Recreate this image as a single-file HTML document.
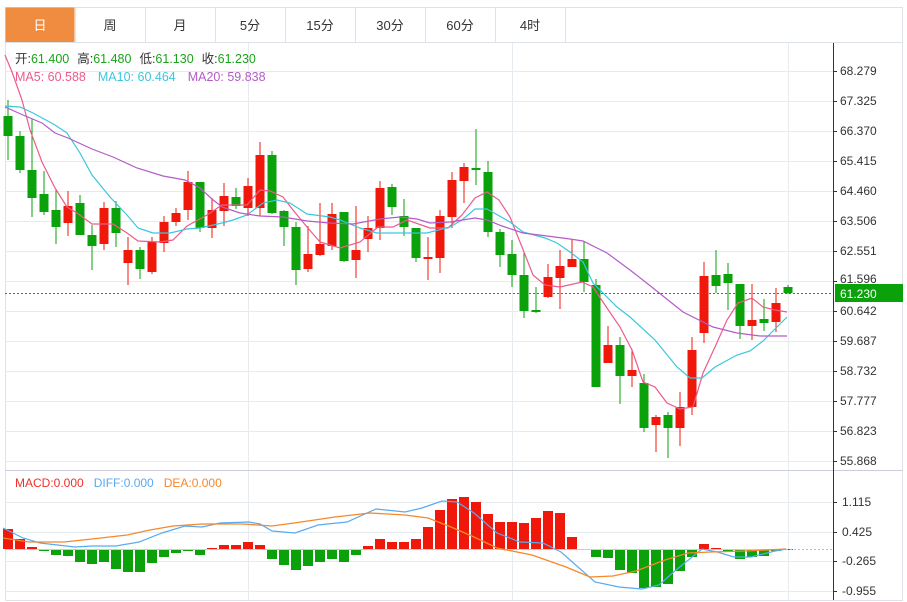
<!DOCTYPE html>
<html><head><meta charset="utf-8"><style>
html,body{margin:0;padding:0;background:#fff;width:907px;height:602px;overflow:hidden;font-family:"Liberation Sans","Noto Sans CJK SC",sans-serif}
</style></head><body>
<svg id="s" width="907" height="602" xmlns="http://www.w3.org/2000/svg" font-family="Liberation Sans, Noto Sans CJK SC, sans-serif"></svg>
<script>
var s=document.getElementById('s');var h='';
function L(x1,y1,x2,y2,c,w,d){h+='<line x1="'+x1+'" y1="'+y1+'" x2="'+x2+'" y2="'+y2+'" stroke="'+c+'" stroke-width="'+(w||1)+'"'+(d?' stroke-dasharray="'+d+'"':'')+'/>';}
function R(x,y,w,hh,c){h+='<rect x="'+x+'" y="'+y+'" width="'+w+'" height="'+hh+'" fill="'+c+'"/>';}
function T(x,y,t,c,sz,a){h+='<text x="'+x+'" y="'+y+'" fill="'+c+'" font-size="'+(sz||12)+'"'+(a?' text-anchor="'+a+'"':'')+'>'+t+'</text>';}
function P(pts,c,w){h+='<polyline points="'+pts+'" fill="none" stroke="'+c+'" stroke-width="'+(w||1)+'"/>';}
// outer border
h+='<rect x="5.5" y="7.5" width="897" height="593" fill="none" stroke="#dde2e8"/>';
// tabs
var tabs=['日','周','月','5分','15分','30分','60分','4时'];
for(var i=0;i<8;i++){var x=5+i*70;
 if(i==0)R(x+0.5,7.5,69,35,'#f08c3f');
 L(x+70.5,7,x+70.5,42,'#dde2e8');
 T(x+35,30,tabs[i],i==0?'#fff':'#333',13,'middle');}
L(5,42.5,903,42.5,'#dde2e8');
// grid
var pl=['68.279','67.325','66.370','65.415','64.460','63.506','62.551','61.596','60.642','59.687','58.732','57.777','56.823','55.868'];
for(var i=0;i<14;i++){var y=71+i*30;L(5,y+.5,833,y+.5,'#e6ebf0');L(833,y+.5,837,y+.5,'#333');}
[248,512,788].forEach(function(x){L(x+.5,43,x+.5,600,'#e6ebf0');});
L(5,470.5,903,470.5,'#ccd');
var my=[502,532,561,591];my.forEach(function(y){L(5,y+.5,833,y+.5,'#e6ebf0');L(833,y+.5,837,y+.5,'#333');});
L(833.5,43,833.5,600,'#333');
// candles
var G='#0aa10a',Rd='#f0180a';
var c=[['g',116,136,100,160],['g',136,170,131,173],['g',170,198,119,217],['g',194,212,171,215],['g',210,227,189,244],['r',206,223,191,236],['g',203,235,195,235],['g',235,246,225,270],['r',208,244,202,250],['g',208,233,201,247],['r',250,263,237,285],['g',250,269,247,279],['r',242,272,237,274],['r',222,243,216,252],['r',213,222,208,226],['r',182,210,171,220],['g',182,228,182,232],['r',210,228,198,238],['r',196,211,183,226],['g',197,206,188,209],['r',186,208,178,216],['r',155,208,142,216],['g',155,213,151,214],['g',211,227,210,246],['g',227,270,222,285],['r',254,269,226,272],['r',244,255,203,256],['r',214,246,203,250],['g',212,261,212,262],['r',250,260,206,278],['r',228,239,216,252],['r',188,228,181,240],['g',187,207,184,215],['g',216,227,199,236],['g',228,258,228,262],['r',257,259,237,280],['r',216,258,210,273],['r',180,217,172,228],['r',167,181,163,203],['g',168,170,129,185],['g',172,232,161,237],['g',232,255,229,267],['g',254,275,240,287],['g',275,311,252,318],['g',310,312,287,313],['r',277,297,264,298],['r',266,278,250,309],['r',259,267,240,267],['g',259,282,241,292],['g',285,387,279,387],['r',345,363,326,363],['g',345,376,337,404],['r',370,376,349,387],['g',383,428,374,432],['r',417,425,415,452],['g',415,428,412,458],['r',407,428,392,446],['r',350,407,337,415],['r',276,333,262,343],['g',275,286,250,293],['g',274,283,263,310],['g',284,326,284,339],['r',320,326,284,340],['g',319,323,299,331],['r',303,322,288,332],['g',287,293,285,294]];
c.forEach(function(k,i){var x=8+i*12,col=k[0]=='g'?G:Rd;L(x,k[3],x,k[4],col,1);R(x-4.5,k[1],9,Math.max(1.5,k[2]-k[1]),col);});
// MAs
P('5,55 12,72 22,100 30,130 42,162 55,188 67,207 77,213 92,224 113,224 127,233 138,241 160,242 173,240 187,226 207,215 222,205 247,205 260,190 270,191 283,197 293,210 307,227 320,242 340,248 360,242 378,227 393,227 407,220 430,228 448,228 462,215 475,198 487,192 499,200 510,217 522,247 533,275 545,285 560,287 582,282 593,287 607,308 620,327 632,350 643,382 655,387 667,403 680,409 693,407 703,373 715,347 727,320 738,303 752,298 763,307 775,310 787,312','#ec5b8a',1.2);
P('5,106 20,107 33,113 55,125 67,133 80,153 92,175 110,197 127,215 138,228 153,233 170,233 187,229 200,228 222,223 233,220 247,215 263,203 277,200 290,203 307,214 330,217 340,220 360,228 377,233 400,233 427,233 450,227 462,220 475,209 487,209 510,222 523,232 545,238 557,243 570,252 583,262 593,283 617,307 630,317 655,340 677,367 690,378 702,378 715,367 737,355 750,351 763,341 775,329 787,317','#3cc6de',1.2);
P('5,107 23,115 42,123 55,133 68,138 92,149 113,157 137,168 163,176 185,180 200,188 212,199 222,207 240,213 260,216 283,217 307,221 330,223 353,224 380,219 400,217 417,219 430,223 450,222 475,218 487,220 502,226 523,233 547,236 570,239 583,241 607,253 630,270 653,288 683,312 713,327 737,333 760,336 787,336','#b35cc6',1.2);
// price line
L(5,293.5,833,293.5,G,1,'2,2');
R(835,284,68,18,G);T(840,298,'61.230','#fff',12);
for(var i=0;i<14;i++){if(i==7)T(840,75+i*30-2,pl[i],'#333',12);else T(840,75+i*30,pl[i],'#333',12);}
// MACD bars
var m=[529,539,547,551,555,556,562,564,562,569,572,572,563,557,553,551,555,548,545,545,542,545,559,565,570,566,562,559,562,555,546,539,542,542,539,527,510,499,497,502,514,522,522,523,518,511,513,537,549,557,558,570,573,588,587,584,571,557,544,548,552,559,557,556,551,550];
m.forEach(function(v,i){var x=8+i*12;if(v<549)R(x-5,v,10,549-v,Rd);else if(v>549)R(x-5,549,10,v-549,G);});
L(5,549.5,786,549.5,'#ccc');L(786,549.5,833,549.5,'#8cc8e8',1,'2,2');
P('3,528 23,538 40,543 75,547 92,546 116,546 139,542 162,533 185,526 202,527 220,523 249,522 260,524 272,531 295,533 318,525 347,522 376,509 405,512 422,508 442,501 457,502 474,513 497,533 520,542 543,543 561,552 578,567 595,582 619,587 642,589 659,585 676,570 702,549 717,552 734,557 751,557 775,551 786,549','#5aaaf0',1.2);
P('3,538 29,542 64,542 92,539 127,535 150,530 173,526 202,524 243,524 272,526 301,522 335,517 370,513 405,515 428,518 451,527 474,537 497,548 532,555 566,567 590,577 613,576 636,571 665,560 688,553 711,552 746,551 786,549','#f5882a',1.3);
['1.115','0.425','-0.265','-0.955'].forEach(function(t,i){T(842,my[i]+4,t,'#333',12);});
// legends
var y=63;
h+='<text x="15" y="'+y+'" font-size="12.5"><tspan fill="#333">开:</tspan><tspan fill="#1aa31a">61.400</tspan><tspan fill="#333" dx="8">高:</tspan><tspan fill="#1aa31a">61.480</tspan><tspan fill="#333" dx="8">低:</tspan><tspan fill="#1aa31a">61.130</tspan><tspan fill="#333" dx="8">收:</tspan><tspan fill="#1aa31a">61.230</tspan></text>';
h+='<text x="15" y="81" font-size="12.5"><tspan fill="#ec5b8a">MA5: 60.588</tspan><tspan fill="#3cc6de" dx="12">MA10: 60.464</tspan><tspan fill="#b35cc6" dx="12">MA20: 59.838</tspan></text>';
h+='<text x="15" y="487" font-size="12"><tspan fill="#f0302a">MACD:0.000</tspan><tspan fill="#5aaaf0" dx="10">DIFF:0.000</tspan><tspan fill="#f5882a" dx="10">DEA:0.000</tspan></text>';
s.innerHTML=h;
</script>
</body></html>
